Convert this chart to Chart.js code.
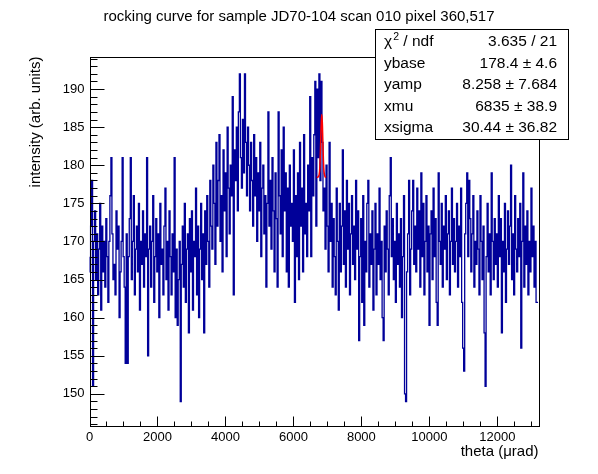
<!DOCTYPE html>
<html>
<head>
<meta charset="utf-8">
<script src="https://cdn.jsdelivr.net/npm/chart.js@4.4.0/dist/chart.umd.min.js"></script>
<style>
html, body { margin: 0; padding: 0; background: #fff; }
#chart { display: block; }
</style>
</head>
<body>
<canvas id="chart" width="598" height="474" style="width:598px;height:474px"></canvas>
<script>
"use strict"

/*====================================================================
Data (one value per bin of 30 µrad)
====================================================================*/
const binWidth = 30
const counts = [
    168,166,172,178,151,170,174,165,171,163,169,175,161,172,166,170,164,173,168,162,
    170,176,181,171,165,167,163,174,169,172,160,166,170,181,168,164,154,171,154,168,
    173,181,165,170,176,163,169,172,166,175,161,170,167,174,164,171,168,181,155,169,
    172,164,170,176,162,168,173,166,171,160,175,167,169,163,172,177,165,170,161,174,
    168,163,171,166,181,160,169,159,165,170,149,167,172,164,175,162,169,171,158,173,
    166,174,161,170,168,177,163,172,160,169,175,165,171,158,174,167,176,170,164,178,
    172,169,180,175,167,183,172,178,184,170,176,166,182,174,179,168,185,177,171,180,
    176,189,163,182,178,185,174,187,192,181,177,186,179,192,183,176,185,180,174,183,
    178,172,184,176,181,170,179,174,183,168,177,180,171,176,164,175,187,172,178,169,
    181,174,166,179,173,164,187,176,171,182,168,185,174,179,166,177,164,180,172,175,
    170,182,162,176,168,179,165,183,172,177,166,184,171,175,168,180,174,189,168,181,
    176,184,191,172,190,181,192,178,191,183,174,177,169,180,172,166,183,170,175,164,
    173,168,163,177,170,161,175,166,172,182,167,174,164,178,169,175,163,171,176,167,
    172,165,178,169,174,157,168,173,162,176,159,170,166,175,178,164,171,167,174,161,
    169,175,163,171,167,177,165,170,160,157,172,166,174,169,163,176,181,168,173,165,
    170,162,175,167,171,164,173,160,168,176,150,149,166,171,178,163,169,174,178,167,
    172,166,177,169,174,164,179,168,175,163,170,176,166,172,159,171,174,165,177,168,
    173,162,159,179,170,167,175,164,172,169,176,165,171,174,163,170,177,167,173,166,
    170,175,164,172,168,177,162,156,153,171,175,179,168,178,173,166,171,176,164,170,
    167,174,169,163,176,170,165,172,158,151,168,175,166,171,163,179,170,165,173,167,
    171,164,176,168,173,158,170,166,175,162,169,174,167,172,180,165,171,163,176,169,
    166,173,168,175,156,170,179,164,172,167,174,163,170,166,177,168,172,164,170,162
]

// red fit curve
const fitX = [6690, 6740, 6770, 6790, 6805, 6820, 6835, 6850, 6865, 6880, 6900, 6930, 6960]
const fitY = [178.4, 178.5, 179.2, 181.1, 183.4, 185.7, 186.66, 185.7, 183.4, 181.1, 179.2, 178.5, 178.4]

const xTicks = [0, 2000, 4000, 6000, 8000, 10000, 12000]
const yTicks = [150, 155, 160, 165, 170, 175, 180, 185, 190]

const statNames = ["ybase", "yamp", "xmu", "xsigma"]
const statValues = ["178.4 \u00b1 4.6", "8.258 \u00b1 7.684", "6835 \u00b1 38.9", "30.44 \u00b1 36.82"]
const chiValue = "3.635 / 21"

const titleText = "rocking curve for sample JD70-104 scan 010 pixel 360,517"
const xTitle = "theta (\u03bcrad)"
const yTitle = "intensity (arb. units)"

/*====================================================================
Build the datasets
====================================================================*/
let histPoints = []
for (let i = 0; i < counts.length; i++){
    histPoints.push({x: i * binWidth, y: counts[i]})
}
// closing edge of the last bin
histPoints.push({x: counts.length * binWidth, y: counts[counts.length - 1]})

let fitPoints = fitX.map((v, i) => ({x: v, y: fitY[i]}))

const FONT = '"Liberation Sans", Arial, Helvetica, sans-serif'

/*====================================================================
Plugin: ROOT-like frame, inward ticks, titles, stats box
====================================================================*/
const rootLook = {
    id: "rootLook",
    afterDatasetsDraw(chart){
        const ctx = chart.ctx
        const a = chart.chartArea
        const xs = chart.scales.x
        const ys = chart.scales.y
        ctx.save()
        ctx.strokeStyle = "#000"
        ctx.lineWidth = 1
        ctx.strokeRect(Math.round(a.left) + 0.5, Math.round(a.top) + 0.5,
            Math.round(a.right - a.left), Math.round(a.bottom - a.top))

        ctx.beginPath()
        for (let v = 146; v <= 194; v++){
            const py = Math.round(ys.getPixelForValue(v)) + 0.5
            const len = (v % 5 === 0) ? 14 : 7
            ctx.moveTo(Math.round(a.left) + 0.5, py)
            ctx.lineTo(Math.round(a.left) + 0.5 + len, py)
        }
        for (let v = 0; v <= 13000; v += 500){
            const px = Math.round(xs.getPixelForValue(v)) + 0.5
            const len = (v % 2000 === 0) ? 10 : 5
            ctx.moveTo(px, Math.round(a.bottom) + 0.5)
            ctx.lineTo(px, Math.round(a.bottom) + 0.5 - len)
        }
        ctx.stroke()
        ctx.restore()
    },
    afterDraw(chart){
        const ctx = chart.ctx
        const a = chart.chartArea
        ctx.save()
        ctx.fillStyle = "#000"

        // title
        ctx.font = "15px " + FONT
        ctx.textAlign = "center"
        ctx.textBaseline = "middle"
        ctx.fillText(titleText, 299, 17)

        // axis titles, right aligned at the axis end like ROOT
        ctx.font = "15px " + FONT
        ctx.textAlign = "right"
        ctx.fillText(xTitle, a.right, 452)
        ctx.save()
        ctx.translate(36, a.top)
        ctx.rotate(-Math.PI / 2)
        ctx.textAlign = "right"
        ctx.fillText(yTitle, 0, 0)
        ctx.restore()

        // stats box
        const bx = 375.5, by = 29.5, bw = 193, bh = 110
        ctx.fillStyle = "#fff"
        ctx.fillRect(bx, by, bw, bh)
        ctx.strokeStyle = "#000"
        ctx.lineWidth = 1
        ctx.strokeRect(bx, by, bw, bh)

        ctx.fillStyle = "#000"
        ctx.font = "15.5px " + FONT
        ctx.textBaseline = "middle"
        const rows = [42, 64, 85, 107, 128]
        const tx = 384, vx = 557
        // chi2 row
        ctx.textAlign = "left"
        ctx.fillText("\u03c7", tx, rows[0])
        let w = ctx.measureText("\u03c7").width
        ctx.font = "10.5px " + FONT
        ctx.fillText("2", tx + w + 1, rows[0] - 5)
        let w2 = ctx.measureText("2").width
        ctx.font = "15.5px " + FONT
        ctx.fillText(" / ndf", tx + w + 1 + w2, rows[0])
        ctx.textAlign = "right"
        ctx.fillText(chiValue, vx, rows[0])
        for (let i = 0; i < statNames.length; i++){
            ctx.textAlign = "left"
            ctx.fillText(statNames[i], tx, rows[i + 1])
            ctx.textAlign = "right"
            ctx.fillText(statValues[i], vx, rows[i + 1])
        }
        ctx.restore()
    }
}

/*====================================================================
Chart
====================================================================*/
const chart = document.getElementById("chart")
let newChart = new Chart(chart, {
    type: "line",
    data: {
        datasets: [
            {label: "fit", data: fitPoints, borderColor: "#ff0000", borderWidth: 1.5,
                pointRadius: 0, tension: 0.35, order: 0},
            {label: "histogram", data: histPoints, borderColor: "#000099", borderWidth: 1.3,
                pointRadius: 0, stepped: "after", order: 1}
        ]
    },
    options: {
        responsive: false,
        devicePixelRatio: 1,
        animation: false,
        events: [],
        layout: {padding: {left: 0, right: 59.5, top: 56.5, bottom: 0}},
        plugins: {legend: {display: false}, tooltip: {enabled: false}, title: {display: false}},
        scales: {
            x: {
                type: "linear", min: 0, max: 13212,
                grid: {display: false, drawTicks: false}, border: {display: false},
                afterBuildTicks: (s) => { s.ticks = xTicks.map(v => ({value: v})) },
                afterFit: (s) => { s.height = 48.5 },
                ticks: {color: "#000", padding: 4, maxRotation: 0, font: {family: FONT, size: 13},
                    callback: (v) => String(v)}
            },
            y: {
                type: "linear", min: 145.85, max: 194.27,
                grid: {display: false, drawTicks: false}, border: {display: false},
                afterBuildTicks: (s) => { s.ticks = yTicks.map(v => ({value: v})) },
                afterFit: (s) => { s.width = 89.5 },
                ticks: {color: "#000", padding: 5, font: {family: FONT, size: 13},
                    callback: (v) => String(v)}
            }
        }
    },
    plugins: [rootLook]
})
console.log("New Chart created", newChart)
</script>
</body>
</html>
